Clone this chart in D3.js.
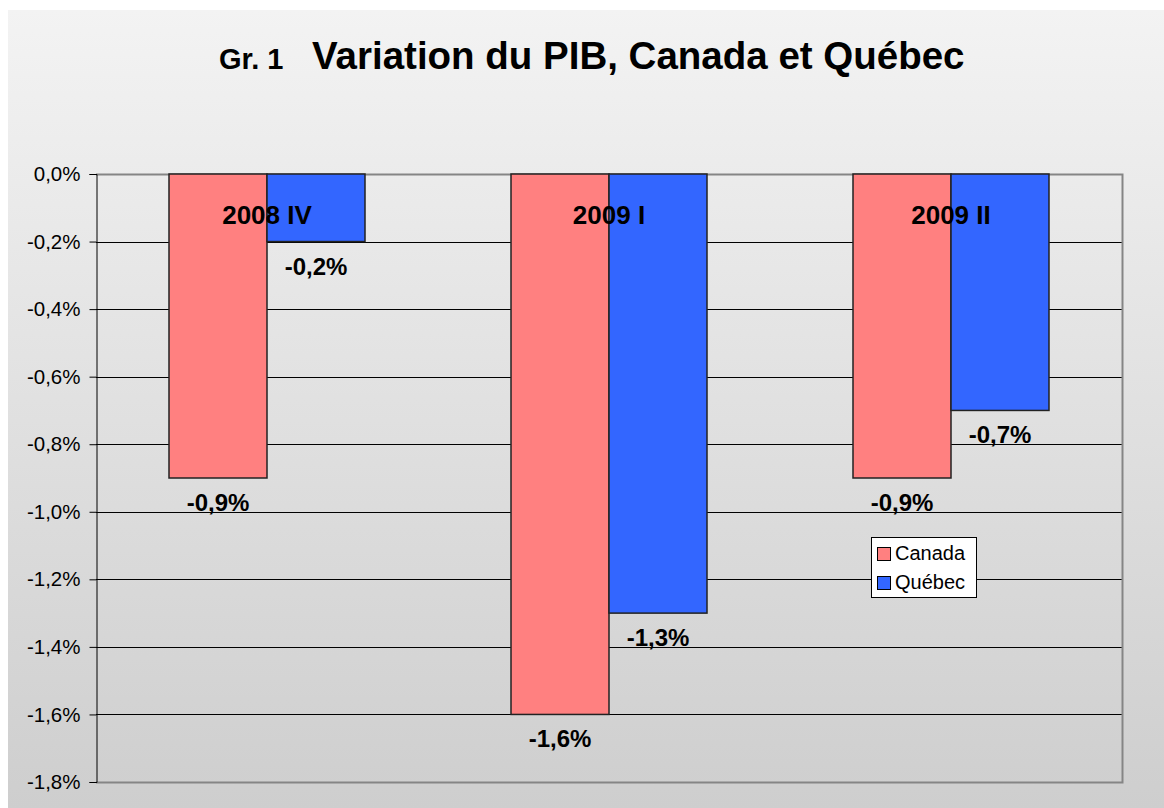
<!DOCTYPE html>
<html>
<head>
<meta charset="utf-8">
<style>
  body { margin: 0; background: #fff; }
  text { font-family: "Liberation Sans", Arial, sans-serif; }
</style>
</head>
<body>
<script src="https://d3js.org/d3.v7.min.js"></script>
<svg width="1164" height="808"></svg>
<script>
var quarters = ["2008 IV", "2009 I", "2009 II"];
var series = ["Canada", "Québec"];
var canada = [-0.9, -1.6, -0.9];
var quebec = [-0.2, -1.3, -0.7];
var yTicks = [0, -0.2, -0.4, -0.6, -0.8, -1.0, -1.2, -1.4, -1.6, -1.8];
var colors = ["#ff8080", "#3366ff"];

var svg = d3.select("svg");
var defs = svg.append("defs");
var grad = defs.append("linearGradient").attr("id", "bg")
    .attr("x1", 0).attr("y1", 0).attr("x2", 0).attr("y2", 1);
grad.append("stop").attr("offset", "0%").attr("stop-color", "#f3f3f3");
grad.append("stop").attr("offset", "100%").attr("stop-color", "#cecece");

svg.append("rect").attr("x", 8).attr("y", 10)
    .attr("width", 1156).attr("height", 798)
    .attr("fill", "url(#bg)");

var plotL = 96, plotR = 1122, plotT = 174, plotB = 782;

var x = d3.scaleBand().domain(quarters).range([plotL, plotR]);
var y = d3.scaleLinear().domain([0, -1.8]).range([plotT, plotB]);
var barW = 98;

var fmt = function(v) { return d3.format(".1f")(v).replace(".", ",").replace("−", "-") + "%"; };

// gridlines
svg.append("g").selectAll("line")
    .data(yTicks.slice(1, -1))
    .enter().append("line")
    .attr("x1", plotL).attr("x2", plotR)
    .attr("y1", function(d) { return Math.round(y(d)) + 0.5; })
    .attr("y2", function(d) { return Math.round(y(d)) + 0.5; })
    .attr("stroke", "#000").attr("stroke-width", 1);

// plot border (gray)
svg.append("path")
    .attr("d", "M" + plotL + "," + (plotT + 0.5) + "H" + (plotR + 0.5) + "V" + (plotB + 0.5) + "H" + plotL)
    .attr("fill", "none").attr("stroke", "#858585").attr("stroke-width", 2);

// y axis
var yAxis = d3.axisLeft(y).tickValues(yTicks).tickSize(7).tickPadding(9)
    .tickFormat(fmt);
var ga = svg.append("g").attr("transform", "translate(" + (plotL + 0.5) + ",0)").call(yAxis);
ga.attr("font-size", 20.5).attr("font-family", "Liberation Sans, Arial, sans-serif");
ga.select(".domain").attr("stroke", "#000");
ga.selectAll(".tick line").attr("stroke", "#000");
ga.selectAll(".tick text").attr("fill", "#000");

// bars
var data = [];
quarters.forEach(function(q, i) {
  data.push({ q: q, s: 0, v: canada[i] });
  data.push({ q: q, s: 1, v: quebec[i] });
});
function cx(d) { return x(d.q) + x.bandwidth() / 2 + (d.s === 0 ? -barW / 2 : barW / 2); }

svg.append("g").selectAll("rect")
    .data(data).enter().append("rect")
    .attr("x", function(d) { return cx(d) - barW / 2; })
    .attr("y", y(0))
    .attr("width", barW)
    .attr("height", function(d) { return y(d.v) - y(0); })
    .attr("fill", function(d) { return colors[d.s]; })
    .attr("stroke", "#222").attr("stroke-width", 1.5);

// value labels
svg.append("g").selectAll("text")
    .data(data).enter().append("text")
    .attr("x", function(d) { return cx(d); })
    .attr("y", function(d) { return y(d.v) + 33; })
    .attr("text-anchor", "middle")
    .attr("font-size", 24).attr("font-weight", "bold")
    .text(function(d) { return fmt(d.v); });

// category labels
svg.append("g").selectAll("text")
    .data(quarters).enter().append("text")
    .attr("x", function(d) { return x(d) + x.bandwidth() / 2; })
    .attr("y", 224)
    .attr("text-anchor", "middle")
    .attr("font-size", 26).attr("font-weight", "bold")
    .text(function(d) { return d; });

// title
svg.append("text").attr("x", 219).attr("y", 69)
    .attr("font-weight", "bold").attr("font-size", 29).text("Gr. 1");
svg.append("text").attr("x", 312).attr("y", 69)
    .attr("font-weight", "bold").attr("font-size", 38.5).text("Variation du PIB, Canada et Québec");

// legend
var lg = svg.append("g").attr("transform", "translate(871,537)");
lg.append("rect").attr("x", 0.5).attr("y", 0.5).attr("width", 105).attr("height", 60)
    .attr("fill", "#fff").attr("stroke", "#000").attr("stroke-width", 1);
series.forEach(function(s, i) {
  lg.append("rect").attr("x", 6.5).attr("y", 10.5 + i * 29).attr("width", 13).attr("height", 13)
      .attr("fill", colors[i]).attr("stroke", "#000");
  lg.append("text").attr("x", 24).attr("y", 23 + i * 29)
      .attr("font-size", 20).text(s);
});
</script>
</body>
</html>
